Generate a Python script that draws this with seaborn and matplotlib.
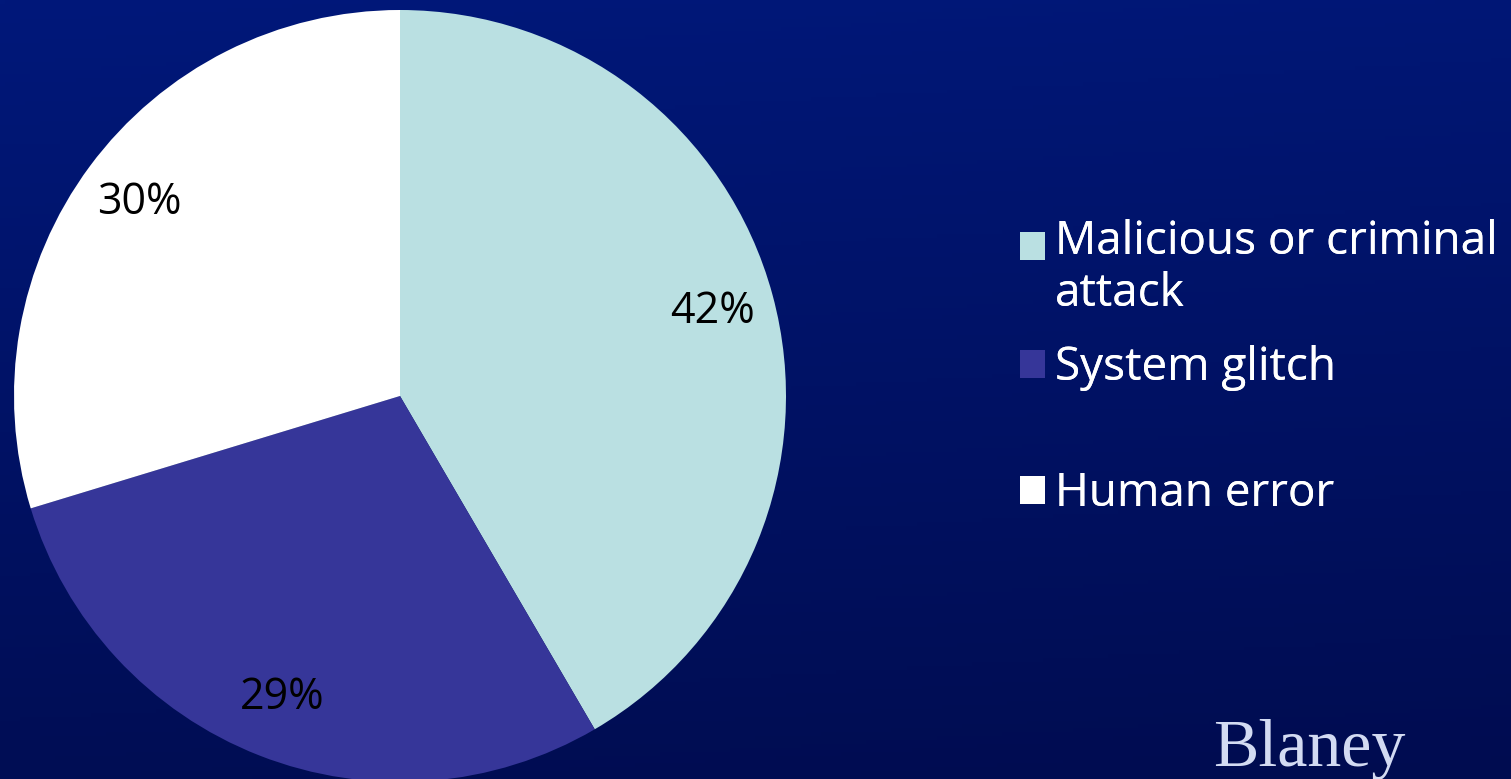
import numpy as np
import matplotlib
matplotlib.use("Agg")
import matplotlib.pyplot as plt
import seaborn as sns
from matplotlib import font_manager

categories = ["Malicious or criminal\nattack", "System glitch", "Human error"]
values = [42, 29, 30]
pct_labels = ["42%", "29%", "30%"]
colors = ["#BAE0E2", "#363699", "#FFFFFF"]
brand = "Blaney"

sns.set_theme(style="white")
avail = {f.name for f in font_manager.fontManager.ttflist}
label_font = next((f for f in ["Liberation Sans Narrow", "Open Sans", "DejaVu Sans"] if f in avail), "DejaVu Sans")
legend_font = next((f for f in ["Open Sans", "Noto Sans", "DejaVu Sans"] if f in avail), "DejaVu Sans")
plt.rcParams["font.family"] = [legend_font, "DejaVu Sans"]

W, H = 1511, 779
fig = plt.figure(figsize=(W / 100, H / 100), dpi=100)

# background gradient
bg = fig.add_axes([0, 0, 1, 1], zorder=-10)
yy = np.linspace(0, 1, 200)[:, None]
xx = np.linspace(0, 1, 300)[None, :]
top = np.array([0x00, 0x18, 0x7A]) / 255
bot = np.array([0x00, 0x0C, 0x50]) / 255
t = np.clip(yy * 0.9 + xx * 0.1, 0, 1)[..., None]
img = top * (1 - t) + bot * t
bg.imshow(img, aspect="auto", extent=[0, 1, 0, 1], origin="upper")
bg.set_axis_off()

# pie axes
cx, cy, r = 400, 396, 386
ax = fig.add_axes([(cx - r) / W, (H - cy - r) / H, 2 * r / W, 2 * r / H])
wedges, texts, autotexts = ax.pie(
    values, colors=colors, startangle=90, counterclock=False,
    autopct=lambda p: "", pctdistance=0.84, radius=1,
    wedgeprops=dict(linewidth=0),
)
for at, lab in zip(autotexts, pct_labels):
    at.set_text(lab)
    at.set_fontsize(31)
    at.set_family([label_font, "DejaVu Sans"])
    at.set_color("black")
ax.set_xlim(-1, 1)
ax.set_ylim(-1, 1)
ax.set_aspect("equal")
ax.set_axis_off()

# legend: one entry per legend so the vertical slots match the reference
entry_y = [268, 368, 494]
fs = 33
for i, (w, lab, y) in enumerate(zip(wedges, categories, entry_y)):
    leg = fig.legend(
        [w], [lab], loc="center left", bbox_to_anchor=(1020 / W, 1 - y / H),
        frameon=False, fontsize=fs, labelcolor="white", handlelength=0.55,
        handleheight=0.55, handletextpad=0.22, borderpad=0, borderaxespad=0,
        labelspacing=0,
    )
    h = leg.legend_handles[0]
    h.set_linewidth(0)
    if "\n" in lab:
        # align the swatch with the first text line
        h.set_y(h.get_y() + fs * 1.2 / 2 * 0.85)
    fig.add_artist(leg)

fig.text(1213 / W, 1 - 766 / H, brand, family=["Liberation Serif", "DejaVu Serif"],
         fontsize=49, color="#D3DBF2")

fig.savefig("out.png", dpi=100)
